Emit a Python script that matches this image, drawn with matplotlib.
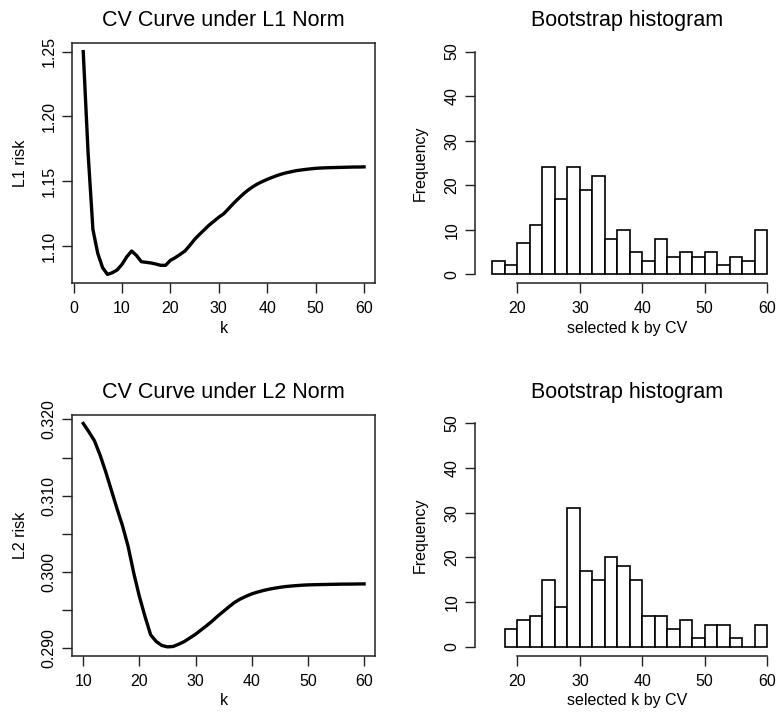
import numpy as np
import matplotlib.pyplot as plt

plt.rcParams['font.family'] = ['Liberation Sans', 'DejaVu Sans']

# CV curve, L1 norm
k_l1 = list(range(2, 61))
risk_l1 = [1.2500, 1.1720, 1.1128, 1.0944, 1.0834, 1.0782, 1.0795, 1.0816, 1.0859, 1.0918,
           1.0962, 1.0928, 1.0880, 1.0875, 1.0870, 1.0862, 1.0852, 1.0852, 1.0890, 1.0911,
           1.0936, 1.0962, 1.1005, 1.1052, 1.1090, 1.1126, 1.1162, 1.1192, 1.1223, 1.1249,
           1.1288, 1.1328, 1.1365, 1.1400, 1.1431, 1.1457, 1.1480, 1.1498, 1.1515, 1.1530,
           1.1544, 1.1556, 1.1566, 1.1574, 1.1582, 1.1587, 1.1592, 1.1596, 1.1600, 1.1602,
           1.1604, 1.1605, 1.1606, 1.1607, 1.1608, 1.1609, 1.1610, 1.1610, 1.1611]

# CV curve, L2 norm
k_l2 = list(range(10, 61))
risk_l2 = [0.31948, 0.31838, 0.31720, 0.31533, 0.31314, 0.31074, 0.30834, 0.30603, 0.30332, 0.29983,
           0.29677, 0.29415, 0.29175, 0.29087, 0.29035, 0.29017, 0.29022, 0.29052, 0.29087, 0.29135,
           0.29183, 0.29240, 0.29297, 0.29358, 0.29424, 0.29485, 0.29546, 0.29603, 0.29646, 0.29681,
           0.29712, 0.29735, 0.29755, 0.29772, 0.29786, 0.29798, 0.29808, 0.29815, 0.29821, 0.29826,
           0.29830, 0.29832, 0.29834, 0.29835, 0.29837, 0.29838, 0.29840, 0.29840, 0.29841, 0.29842,
           0.29843]

# bootstrap histograms (bin width 2)
breaks_l1 = list(range(16, 61, 2))
counts_l1 = [3, 2, 7, 11, 24, 17, 24, 19, 22, 8, 10, 5, 3, 8, 4, 5, 4, 5, 2, 4, 3, 10]
breaks_l2 = list(range(18, 61, 2))
counts_l2 = [4, 6, 7, 15, 9, 31, 17, 15, 20, 18, 15, 7, 7, 4, 6, 2, 5, 5, 2, 0, 5]

W, H = 779, 719
fig = plt.figure(figsize=(W / 100, H / 100), dpi=100)


def add_ax(l, r, t, b):
    return fig.add_axes([l / W, 1 - b / H, (r - l) / W, (b - t) / H])


def style(ax):
    ax.tick_params(direction='out', length=7, width=1, labelsize=11.5, color='#222222')
    ax.tick_params(axis='x', pad=6)
    ax.tick_params(axis='y', pad=4)
    for lab in ax.get_yticklabels():
        lab.set_rotation(90)
        lab.set_va('center')


def rext(lo, hi):
    d = (hi - lo) * 0.04
    return lo - d, hi + d


ax1 = add_ax(72, 375.3, 42.7, 283.3)
ax2 = add_ax(475, 778.3, 42.7, 283.3)
ax3 = add_ax(72, 375.3, 414.5, 655.8)
ax4 = add_ax(475, 778.3, 414.5, 655.8)

# curves
for ax, k, r, title, ylab in [(ax1, k_l1, risk_l1, 'CV Curve under L1 Norm', 'L1 risk'),
                              (ax3, k_l2, risk_l2, 'CV Curve under L2 Norm', 'L2 risk')]:
    ax.plot(k, r, color='black', lw=2.4, solid_joinstyle='round')
    ax.set_xlim(*rext(min(k), max(k)))
    ax.set_ylim(*rext(min(r), max(r)))
    ax.set_title(title, fontsize=15.5, pad=12)
    ax.set_xlabel('k', fontsize=11.5)
    ax.set_ylabel(ylab, fontsize=11.5)
    ax.xaxis.set_label_coords(0.5, -0.155)
    ax.yaxis.set_label_coords(-0.145, 0.5)
    for s in ax.spines.values():
        s.set_linewidth(1.1)
        s.set_color('#222222')

ax1.set_xticks(np.arange(0, 61, 10))
ax1.set_yticks([1.10, 1.15, 1.20, 1.25])
ax1.set_yticklabels(['1.10', '1.15', '1.20', '1.25'])
ax3.set_xticks(np.arange(10, 61, 10))
ax3.set_yticks([0.290, 0.295, 0.300, 0.305, 0.310, 0.315, 0.320])
ax3.set_yticklabels(['0.290', '', '0.300', '', '0.310', '', '0.320'])

# histograms
for ax, br, ct in [(ax2, breaks_l1, counts_l1), (ax4, breaks_l2, counts_l2)]:
    ax.bar(br[:-1], ct, width=2, align='edge', facecolor='white', edgecolor='black', linewidth=1.2)
    ax.set_xlim(*rext(15, 60))
    ax.set_ylim(*rext(0, 50))
    ax.set_xticks(np.arange(20, 61, 10))
    ax.set_yticks(np.arange(0, 51, 10))
    ax.spines['top'].set_visible(False)
    ax.spines['right'].set_visible(False)
    ax.spines['left'].set_bounds(0, 50)
    ax.spines['bottom'].set_bounds(20, 60)
    for s in ('left', 'bottom'):
        ax.spines[s].set_linewidth(1.1)
        ax.spines[s].set_color('#222222')
    ax.set_title('Bootstrap histogram', fontsize=15.5, pad=12)
    ax.set_xlabel('selected k by CV', fontsize=11.5)
    ax.set_ylabel('Frequency', fontsize=11.5)
    ax.xaxis.set_label_coords(0.5, -0.155)
    ax.yaxis.set_label_coords(-0.155, 0.5)

for ax in (ax1, ax2, ax3, ax4):
    style(ax)

fig.savefig('out.png', dpi=100)
